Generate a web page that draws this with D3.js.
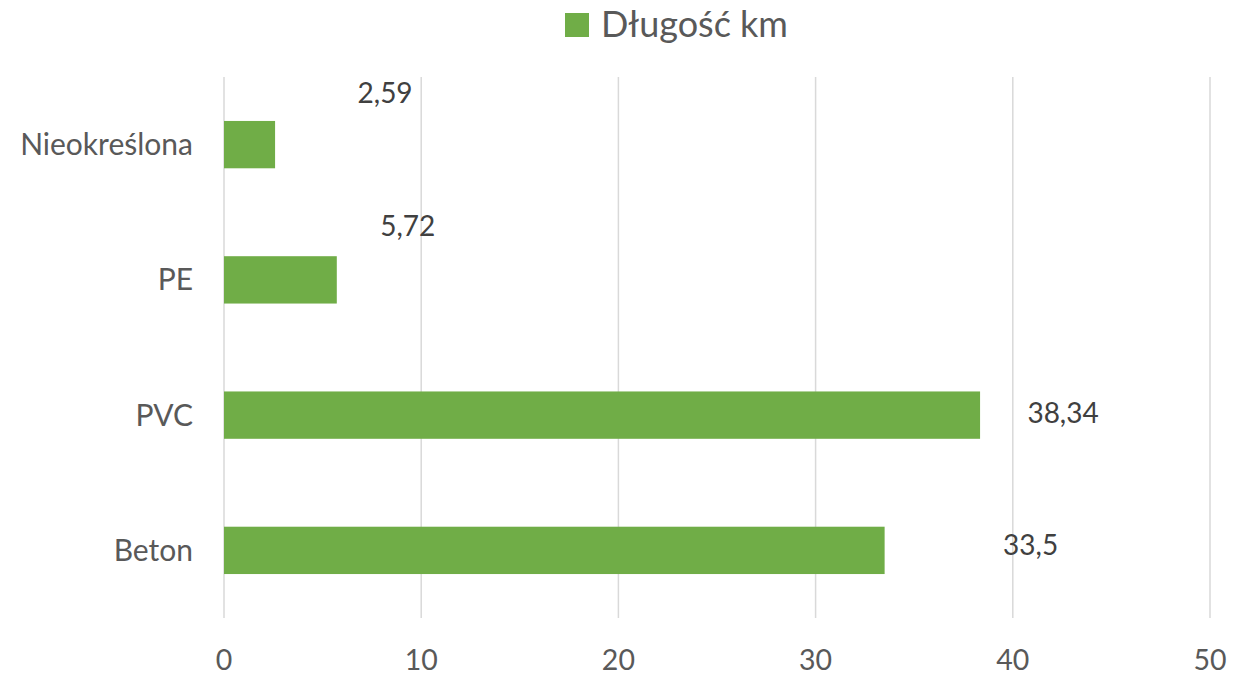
<!DOCTYPE html>
<meta charset="utf-8">
<style>
    body { margin: 0; background: #fff; }
    text { font-family: Lato, "Open Sans", sans-serif; }
    .grid line { stroke: #d9d9d9; stroke-width: 1.5px; }
</style>
<svg width="1248" height="676"></svg>
<script src="https://cdn.jsdelivr.net/npm/d3@7"></script>
<script>

    // data
    var categories = ["Nieokreślona", "PE", "PVC", "Beton"];
    var lengths = [2.59, 5.72, 38.34, 33.5];
    var labelTexts = ["2,59", "5,72", "38,34", "33,5"];
    var ticks = [0, 10, 20, 30, 40, 50];
    var seriesName = "Długość km";

    // labels were dragged by hand in the original, so they get a nudge from the bar end
    var labelNudge = [[110, -42], [71, -44], [83, 8], [146, 5]];

    var svg = d3.select("svg");

    var x = d3.scaleLinear().domain([0, 50]).range([224, 1210]);
    var y = d3.scaleBand().domain(categories).range([77, 618])
        .paddingInner(0.65).paddingOuter(0.325);

    //vertical gridlines
    svg.append("g").attr("class", "grid")
        .selectAll("line")
        .data(ticks)
        .enter()
        .append("line")
        .attr("x1", d => x(d)).attr("x2", d => x(d))
        .attr("y1", 77).attr("y2", 618);

    //x tick labels
    svg.append("g")
        .selectAll("text")
        .data(ticks)
        .enter()
        .append("text")
        .attr("x", d => x(d))
        .attr("y", 670)
        .attr("text-anchor", "middle")
        .attr("fill", "#595959")
        .style("font-size", "28.5px")
        .text(d => d);

    //category labels
    svg.append("g")
        .selectAll("text")
        .data(categories)
        .enter()
        .append("text")
        .attr("x", 193)
        .attr("y", d => y(d) + y.bandwidth() / 2)
        .attr("dy", "0.35em")
        .attr("text-anchor", "end")
        .attr("fill", "#595959")
        .style("font-size", "30px")
        .text(d => d);

    //bars
    svg.append("g")
        .selectAll("rect")
        .data(lengths)
        .enter()
        .append("rect")
        .attr("x", x(0))
        .attr("y", (d, i) => y(categories[i]))
        .attr("width", d => x(d) - x(0))
        .attr("height", y.bandwidth())
        .attr("fill", "#70ad47");

    //data labels
    svg.append("g")
        .selectAll("text")
        .data(lengths)
        .enter()
        .append("text")
        .attr("x", (d, i) => x(d) + labelNudge[i][0])
        .attr("y", (d, i) => y(categories[i]) + y.bandwidth() / 2 + labelNudge[i][1])
        .attr("text-anchor", "middle")
        .attr("fill", "#404040")
        .style("font-size", "28px")
        .text((d, i) => labelTexts[i]);

    //legend
    var legend = svg.append("g");
    legend.append("rect")
        .attr("x", 565).attr("y", 13)
        .attr("width", 24).attr("height", 24)
        .attr("fill", "#70ad47");
    legend.append("text")
        .attr("x", 601).attr("y", 37)
        .attr("fill", "#595959")
        .style("font-size", "36px")
        .text(seriesName);

</script>
